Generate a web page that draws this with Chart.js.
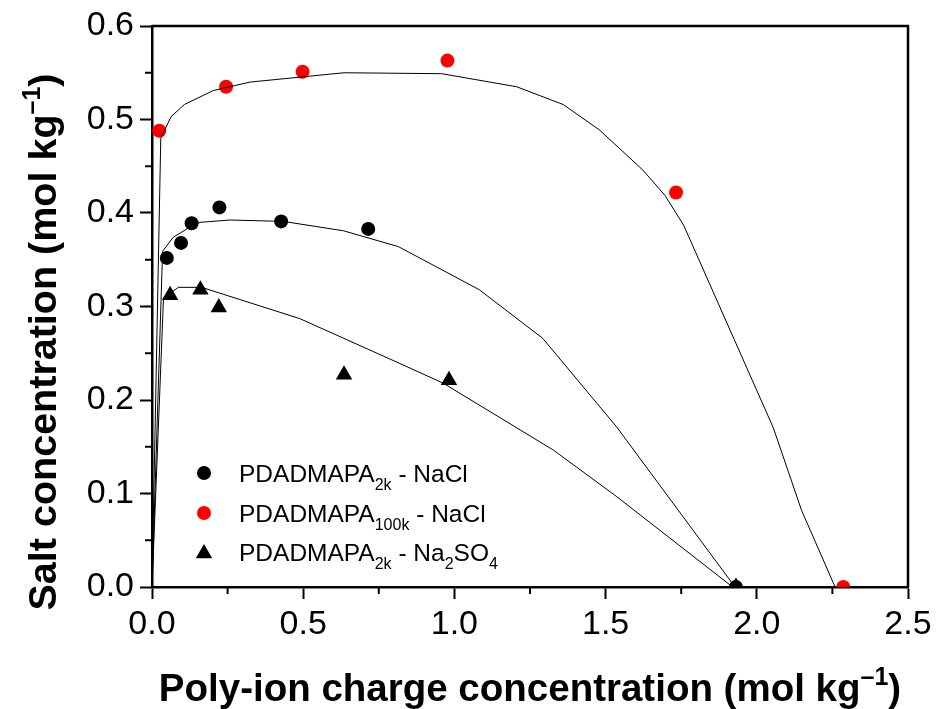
<!DOCTYPE html>
<html>
<head>
<meta charset="utf-8">
<script src="https://cdn.jsdelivr.net/npm/chart.js@4"></script>
<style>
  body { margin: 0; background: #fff; }
  #wrap { width: 936px; height: 709px; position: relative; }
</style>
</head>
<body>
<div id="wrap"><canvas id="phaseChart"></canvas></div>
<script>
// measured points
const nacl2kX = [0.049, 0.096, 0.131, 0.223, 0.427, 0.715, 1.931];
const nacl2kY = [0.352, 0.368, 0.389, 0.406, 0.391, 0.383, 0.0];
const nacl100kX = [0.024, 0.245, 0.498, 0.977, 1.733, 2.286];
const nacl100kY = [0.488, 0.535, 0.551, 0.563, 0.422, 0.0];
const na2so4X = [0.060, 0.160, 0.221, 0.635, 0.982, 1.931];
const na2so4Y = [0.312, 0.318, 0.299, 0.227, 0.221, 0.0];

// model curves
const fit100kX = [0, 0.029, 0.063, 0.107, 0.203, 0.324, 0.635, 0.958, 1.206, 1.360, 1.479, 1.623, 1.696, 1.758, 2.055, 2.148, 2.259];
const fit100kY = [0, 0.480, 0.503, 0.516, 0.531, 0.540, 0.550, 0.549, 0.535, 0.516, 0.489, 0.446, 0.419, 0.387, 0.170, 0.082, 0.0];
const fit2kX = [0, 0.035, 0.070, 0.126, 0.159, 0.258, 0.434, 0.633, 0.815, 1.082, 1.292, 1.537, 1.928];
const fit2kY = [0, 0.359, 0.374, 0.385, 0.390, 0.3925, 0.391, 0.381, 0.364, 0.318, 0.266, 0.171, 0.0];
const fitSO4X = [0, 0.038, 0.087, 0.164, 0.489, 0.820, 0.963, 1.327, 1.537, 1.920];
const fitSO4Y = [0, 0.309, 0.3205, 0.3205, 0.287, 0.239, 0.218, 0.1465, 0.0966, 0.0];

const xTicks = [0.0, 0.5, 1.0, 1.5, 2.0, 2.5];
const xMinor = [0.25, 0.75, 1.25, 1.75, 2.25];
const yTicks = [0.0, 0.1, 0.2, 0.3, 0.4, 0.5, 0.6];
const yMinor = [0.05, 0.15, 0.25, 0.35, 0.45, 0.55];

const FONT = 'Arial, "Liberation Sans", Helvetica, sans-serif';

function pts(xs, ys) {
  return xs.map((x, i) => ({ x: x, y: ys[i] }));
}

// text with sub/superscripts, parts = [text, shift, size]
function richText(ctx, parts, x, y, weight, align) {
  let w = 0;
  parts.forEach(p => {
    ctx.font = weight + ' ' + p[2] + 'px ' + FONT;
    w += ctx.measureText(p[0]).width;
  });
  let cx = align === 'center' ? x - w / 2 : x;
  ctx.textBaseline = 'alphabetic';
  ctx.textAlign = 'left';
  parts.forEach(p => {
    ctx.font = weight + ' ' + p[2] + 'px ' + FONT;
    ctx.fillText(p[0], cx, y + p[1]);
    cx += ctx.measureText(p[0]).width;
  });
}

const decor = {
  id: 'decor',
  afterDraw(chart) {
    const ctx = chart.ctx;
    const a = chart.chartArea;
    const xs = chart.scales.x, ys = chart.scales.y;
    ctx.save();
    ctx.strokeStyle = '#000';
    ctx.fillStyle = '#000';
    // top / right frame
    ctx.lineWidth = 2.5;
    ctx.beginPath();
    ctx.moveTo(a.left, a.top);
    ctx.lineTo(a.right, a.top);
    ctx.lineTo(a.right, a.bottom);
    ctx.stroke();
    // minor ticks
    ctx.lineWidth = 2;
    ctx.beginPath();
    xMinor.forEach(v => {
      const px = xs.getPixelForValue(v);
      ctx.moveTo(px, a.bottom);
      ctx.lineTo(px, a.bottom + 7);
    });
    yMinor.forEach(v => {
      const py = ys.getPixelForValue(v);
      ctx.moveTo(a.left, py);
      ctx.lineTo(a.left - 7, py);
    });
    ctx.stroke();

    // legend
    const lx = a.left + 52, tx = a.left + 87;
    const rows = [
      { y: 473, color: '#000', shape: 'circle', parts: [['PDADMAPA', 0, 24.5], ['2k', 8, 16], [' - NaCl', 0, 24.5]] },
      { y: 513, color: '#ff0000', shape: 'circle', parts: [['PDADMAPA', 0, 24.5], ['100k', 8, 16], [' - NaCl', 0, 24.5]] },
      { y: 552, color: '#000', shape: 'triangle', parts: [['PDADMAPA', 0, 24.5], ['2k', 8, 16], [' - Na', 0, 24.5], ['2', 8, 16], ['SO', 0, 24.5], ['4', 8, 16]] }
    ];
    rows.forEach(r => {
      ctx.fillStyle = r.color;
      ctx.beginPath();
      if (r.shape === 'circle') {
        ctx.arc(lx, r.y, 7, 0, Math.PI * 2);
      } else {
        const rr = 9.5;
        ctx.moveTo(lx, r.y - rr * 0.75 - 1);
        ctx.lineTo(lx + rr * 0.866, r.y + rr * 0.75 - 1);
        ctx.lineTo(lx - rr * 0.866, r.y + rr * 0.75 - 1);
        ctx.closePath();
      }
      ctx.fill();
      ctx.fillStyle = '#000';
      richText(ctx, r.parts, tx, r.y + 8.5, 'normal', 'left');
    });

    // axis titles
    ctx.fillStyle = '#000';
    richText(ctx, [['Poly-ion charge concentration (mol kg', 0, 38.5], ['\u20131', -16, 25], [')', 0, 38.5]],
      530, 701, 'bold', 'center');
    ctx.save();
    ctx.translate(56, 342);
    ctx.rotate(-Math.PI / 2);
    richText(ctx, [['Salt concentration (mol kg', 0, 39.5], ['\u20131', -16, 25], [')', 0, 39.5]],
      0, 0, 'bold', 'center');
    ctx.restore();
    ctx.restore();
  }
};

const scatterStyle = (color, shape, r) => ({
  showLine: false,
  pointStyle: shape,
  pointRadius: r,
  pointHoverRadius: r,
  pointBackgroundColor: color,
  pointBorderColor: color,
  pointBorderWidth: 0
});

const lineStyle = {
  showLine: true,
  borderColor: '#000',
  borderWidth: 1,
  pointRadius: 0,
  tension: 0,
  fill: false
};

new Chart(document.getElementById('phaseChart').getContext('2d'), {
  type: 'scatter',
  data: {
    datasets: [
      { label: 'fit 100k', data: pts(fit100kX, fit100kY), ...lineStyle },
      { label: 'fit 2k', data: pts(fit2kX, fit2kY), ...lineStyle },
      { label: 'fit SO4', data: pts(fitSO4X, fitSO4Y), ...lineStyle },
      { label: 'PDADMAPA2k - NaCl', data: pts(nacl2kX, nacl2kY), ...scatterStyle('#000', 'circle', 7) },
      { label: 'PDADMAPA100k - NaCl', data: pts(nacl100kX, nacl100kY), ...scatterStyle('#ff0000', 'circle', 7) },
      { label: 'PDADMAPA2k - Na2SO4', data: pts(na2so4X, na2so4Y), ...scatterStyle('#000', 'triangle', 9.5) }
    ]
  },
  options: {
    responsive: true,
    maintainAspectRatio: false,
    animation: false,
    layout: { padding: { left: 0, right: 28, top: 26, bottom: 0 } },
    plugins: {
      legend: { display: false },
      tooltip: { enabled: false }
    },
    scales: {
      x: {
        type: 'linear',
        min: 0,
        max: 2.5,
        afterBuildTicks: s => { s.ticks = xTicks.map(v => ({ value: v })); },
        afterFit: s => { s.height = 122; s.paddingLeft = 0; s.paddingRight = 0; },
        ticks: {
          color: '#000',
          font: { family: FONT, size: 34 },
          padding: 5,
          maxRotation: 0,
          callback: v => v.toFixed(1)
        },
        grid: { drawOnChartArea: false, tickLength: 12, tickWidth: 2, tickColor: '#000' },
        border: { display: true, color: '#000', width: 2.5 }
      },
      y: {
        type: 'linear',
        min: 0,
        max: 0.6,
        afterBuildTicks: s => { s.ticks = yTicks.map(v => ({ value: v })); },
        afterFit: s => { s.width = 152; s.paddingTop = 0; s.paddingBottom = 0; },
        ticks: {
          color: '#000',
          font: { family: FONT, size: 34 },
          padding: 6,
          callback: v => v.toFixed(1)
        },
        grid: { drawOnChartArea: false, tickLength: 12, tickWidth: 2, tickColor: '#000' },
        border: { display: true, color: '#000', width: 2.5 }
      }
    }
  },
  plugins: [decor]
});
</script>
</body>
</html>
